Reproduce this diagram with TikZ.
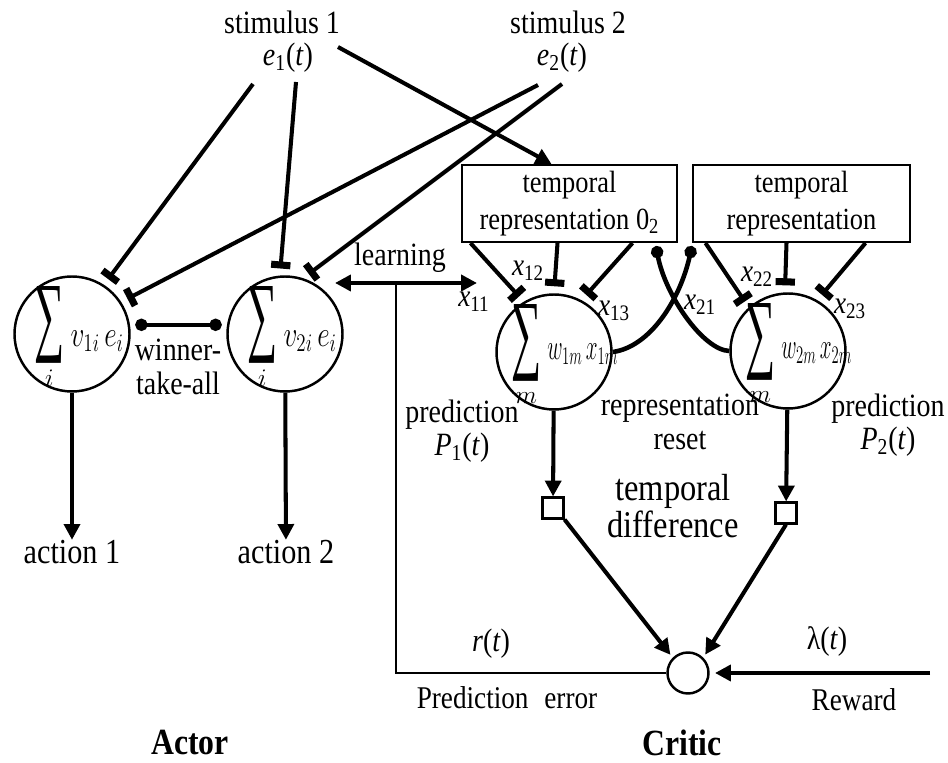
\documentclass[tikz,border=0pt]{standalone}
\usepackage{amsmath}
\usepackage{fontspec}
\setmainfont[FakeStretch=0.86]{Liberation Serif}
\usetikzlibrary{arrows.meta,calc}
\newcommand{\sumglyph}{\scalebox{1}[1.8]{\fontsize{28}{28}\selectfont ∑}}
\newcommand{\unitsum}[6]{\smash{\makebox[0pt]{\hspace*{#1}\raisebox{#2}{$\mathop{\raisebox{#3}{\sumglyph}}\limits_{#5}\scalebox{#4}[1]{$#6$}$}}}}
\begin{document}
\begin{tikzpicture}[x=0.02cm, y=-0.02cm,
    unit/.style={circle, draw, line width=1.4pt, minimum size=2.3cm, inner sep=0pt},
    repbox/.style={draw, line width=1.2pt, minimum height=1.54cm, align=center, font=\fontsize{17.5}{21}\selectfont},
    txt/.style={inner sep=0pt, align=center, font=\fontsize{18.5}{19}\selectfont},
    xlab/.style={inner sep=0pt, font=\fontsize{18}{19}\selectfont},
    wire/.style={line width=2.3pt},
    arr/.style={wire, -{Triangle[length=9pt,width=9pt]}},
    tee/.style={wire, -{Bar[width=11pt,line width=4pt]}, shorten >=4pt},
    dotted end/.style={wire, {Circle[length=7pt]}-{Circle[length=7pt]}, shorten <=3pt, shorten >=3pt}]
  \useasboundingbox (0,0) rectangle (948,763);
  % actor
  \node[txt] (stim1) at (282,22) {stimulus 1};
  \node[txt] (e1) at (288,58) {\textit{e}\textsubscript{1}(\textit{t})};
  \node[txt] (stim2) at (568,22) {stimulus 2};
  \node[txt] (e2) at (562,58) {\textit{e}\textsubscript{2}(\textit{t})};
  \node[unit, font=\fontsize{22}{24}\selectfont] (A1) at (72,334) {\unitsum{8pt}{-7pt}{1pt}{0.75}{i}{v_{1i}\,e_i}};
  \node[unit, font=\fontsize{22}{24}\selectfont] (A2) at (285,334) {\unitsum{8pt}{-7pt}{1pt}{0.75}{i}{v_{2i}\,e_i}};
  \node[txt] (wta) at (178,367) {winner-\\take-all};
  \node[txt, font=\fontsize{20}{22}\selectfont] (act1) at (72,552) {action 1};
  \node[txt, font=\fontsize{20}{22}\selectfont] (act2) at (286,552) {action 2};
  \node[txt, font=\bfseries\fontsize{21}{22}\selectfont] (actor) at (190,743) {Actor};
  % critic
  \node[repbox, minimum width=4.3cm] (box1) at (569.5,203.5) {temporal\\representation 0\textsubscript{2}};
  \node[repbox, minimum width=4.34cm] (box2) at (801.5,203.5) {temporal\\representation};
  \node[unit, font=\fontsize{20}{22}\selectfont] (C1) at (554,352) {\unitsum{12pt}{-4pt}{-2pt}{0.58}{m}{w_{1m}\,x_{1m}}};
  \node[unit, font=\fontsize{20}{22}\selectfont] (C2) at (788,351) {\unitsum{12pt}{-4pt}{-2pt}{0.58}{m}{w_{2m}\,x_{2m}}};
  \node[xlab] (x11) at (474,302) {\textit{x}\textsubscript{11}};
  \node[xlab] (x12) at (528,271) {\textit{x}\textsubscript{12}};
  \node[xlab] (x13) at (614,311) {\textit{x}\textsubscript{13}};
  \node[xlab] (x21) at (700,305) {\textit{x}\textsubscript{21}};
  \node[xlab] (x22) at (757,277) {\textit{x}\textsubscript{22}};
  \node[xlab] (x23) at (850,309) {\textit{x}\textsubscript{23}};
  \node[txt] (learn) at (400,258) {learning};
  \node[txt] (pred1) at (462,431) {prediction\\\textit{P}\textsubscript{1}(\textit{t})};
  \node[txt] (reset) at (680,422) {representation\\reset};
  \node[txt] (pred2) at (888,425) {prediction\\\textit{P}\textsubscript{2}(\textit{t})};
  \node[draw, line width=1.2pt, minimum size=0.42cm, inner sep=0pt] (sq1) at (553,508) {};
  \node[draw, line width=1.2pt, minimum size=0.42cm, inner sep=0pt] (sq2) at (786,513) {};
  \node[txt, font=\fontsize{21.5}{19}\selectfont] (tdiff) at (673,506) {temporal\\difference};
  \node[circle, draw, line width=1.4pt, minimum size=0.82cm, inner sep=0pt] (crit) at (688,673) {};
  \node[txt] (rt) at (491,644) {\textit{r}(\textit{t})};
  \node[txt] (lam) at (827,642) {λ(\textit{t})};
  \node[txt, font=\fontsize{18}{19}\selectfont] (perr) at (507,698) {Prediction\enspace error};
  \node[txt, font=\fontsize{18}{19}\selectfont] (rewd) at (854,700) {Reward};
  \node[txt, font=\bfseries\fontsize{21}{22}\selectfont] (critic) at (682,743) {Critic};
  \coordinate (lrnL) at (335,283);
  \coordinate (lrnR) at (477,283);
  \coordinate (lrnJ) at (396,283);
  \coordinate (rew) at (930,673);
  \begin{scope}[tee]
    \draw ($(e1)+(-35,26)$) to (A1.57);
    \draw ($(e1)+(8,24)$) to (A2.95);
    \draw ($(e2)+(-24,27)$) to (A1.33);
    \draw ($(e2)+(0,26)$) to (A2.72);
    \draw ($(box1.south)+(-99,0)$) to (C1.121);
    \draw ($(box1.south)+(-12,0)$) to (C1.90);
    \draw ($(box1.south)+(63,0)$) to (C1.62);
    \draw ($(box2.south)+(-96,0)$) to (C2.132);
    \draw ($(box2.south)+(-15,0)$) to (C2.93);
    \draw ($(box2.south)+(64,0)$) to (C2.60);
  \end{scope}
  \begin{scope}[arr]
    \draw ($(e1)+(50,-11)$) to ($(box1.north)+(-18,0)$);
    \draw (A1) to (act1);
    \draw (A2) to (act2);
    \draw (C1) to (sq1);
    \draw (C2) to (sq2);
    \draw[shorten >=2pt] (sq1.south east) to (crit.135);
    \draw[shorten >=2pt] (sq2.south) to (crit.45);
    \draw[line width=2.6pt, shorten >=3pt] (rew) to (crit.east);
  \end{scope}
  \draw[dotted end] (A1.9) -- (A2.171);
  \draw[wire, {Triangle[length=9pt,width=9pt]}-{Triangle[length=9pt,width=9pt]}] (lrnL) -- (lrnR);
  \draw[line width=1.5pt] (crit.west) -| (lrnJ);
  \draw[wire, line width=2.6pt, -{Circle[length=7pt]}] (C1.east) .. controls (650,347) and (680,300) .. ($(box2.south west)+(0,3)$);
  \draw[wire, line width=2.6pt, {Circle[length=7pt]}-] ($(box1.south east)+(-22,3)$) .. controls (665,295) and (703,350) .. (C2.west);
\end{tikzpicture}
\end{document}
